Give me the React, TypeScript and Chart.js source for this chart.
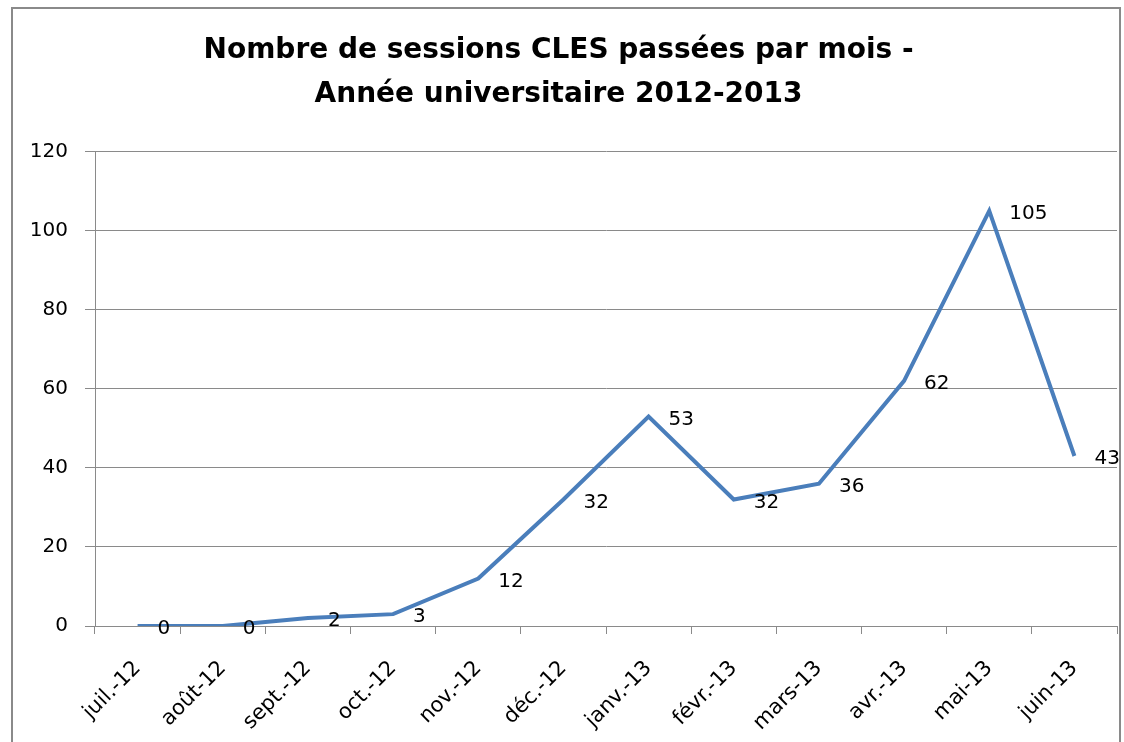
import React, { useEffect, useRef } from "react";
import { Chart, registerables } from "chart.js";

Chart.register(...registerables);

const categories = [
  "juil.-12", "août-12", "sept.-12", "oct.-12", "nov.-12", "déc.-12",
  "janv.-13", "févr.-13", "mars-13", "avr.-13", "mai-13", "juin-13",
];
const sessions = [0, 0, 2, 3, 12, 32, 53, 32, 36, 62, 105, 43];
const titleLines = ["Nombre de sessions CLES passées par mois -", "Année universitaire 2012-2013"];
const yMin = 0;
const yMax = 120;
const yStep = 20;

const FONT = "'DejaVu Sans', sans-serif";

const framePlugin = {
  id: "frame",
  beforeDraw(chart: any) {
    const ctx = chart.ctx;
    ctx.save();
    ctx.fillStyle = "#ffffff";
    ctx.fillRect(0, 0, chart.width, chart.height);
    ctx.strokeStyle = "#8a8a8a";
    ctx.lineWidth = 2;
    ctx.strokeRect(12, 8, chart.width - 16, chart.height + 20);
    ctx.restore();
  },
};

const labelPlugin = {
  id: "valueLabels",
  afterDatasetsDraw(chart: any) {
    const ctx = chart.ctx;
    const meta = chart.getDatasetMeta(0);
    const data = chart.data.datasets[0].data as number[];
    ctx.save();
    ctx.font = `20px ${FONT}`;
    ctx.fillStyle = "#000000";
    ctx.textAlign = "left";
    ctx.textBaseline = "middle";
    meta.data.forEach((pt: any, i: number) => {
      ctx.fillText(String(data[i]), pt.x + 20, pt.y + 3);
    });
    ctx.restore();
  },
};

export default function App() {
  const ref = useRef<HTMLCanvasElement | null>(null);
  useEffect(() => {
    if (!ref.current) return;
    const chart = new Chart(ref.current, {
      type: "line",
      data: {
        labels: categories,
        datasets: [
          {
            data: sessions,
            borderColor: "#4a7ebb",
            borderWidth: 4,
            pointRadius: 0,
            tension: 0,
            fill: false,
          },
        ],
      },
      plugins: [framePlugin, labelPlugin],
      options: {
        animation: false,
        responsive: false,
        maintainAspectRatio: false,
        layout: { padding: { left: 0, right: 7, top: 0, bottom: 0 } },
        plugins: {
          legend: { display: false },
          tooltip: { enabled: false },
          title: {
            display: true,
            text: titleLines,
            color: "#000000",
            font: { family: FONT, size: 28, weight: "bold", lineHeight: 1.6 },
            padding: { top: 28, bottom: 34 },
          },
        },
        scales: {
          x: {
            offset: true,
            grid: {
              offset: true,
              drawOnChartArea: false,
              drawTicks: true,
              tickLength: 8,
              color: "#8a8a8a",
            },
            border: { display: true, color: "#8a8a8a", width: 1 },
            ticks: {
              color: "#000000",
              font: { family: FONT, size: 21 },
              maxRotation: 45,
              minRotation: 45,
              autoSkip: false,
              padding: 22,
            },
            afterFit(scale: any) {
              scale.height = 116;
            },
          },
          y: {
            min: yMin,
            max: yMax,
            grid: {
              color: "#8a8a8a",
              drawTicks: true,
              tickLength: 10,
            },
            border: { display: true, color: "#8a8a8a", width: 1 },
            ticks: {
              stepSize: yStep,
              color: "#000000",
              font: { family: FONT, size: 20 },
              padding: 17,
            },
            afterFit(scale: any) {
              scale.width = 95;
            },
          },
        },
      },
    });
    return () => chart.destroy();
  }, []);
  return (
    <div style={{ position: "fixed", left: 0, top: 0, width: 1124, height: 742, overflow: "hidden", background: "#fff" }}>
      <canvas ref={ref} width={1124} height={742} style={{ width: 1124, height: 742, display: "block" }} />
    </div>
  );
}
